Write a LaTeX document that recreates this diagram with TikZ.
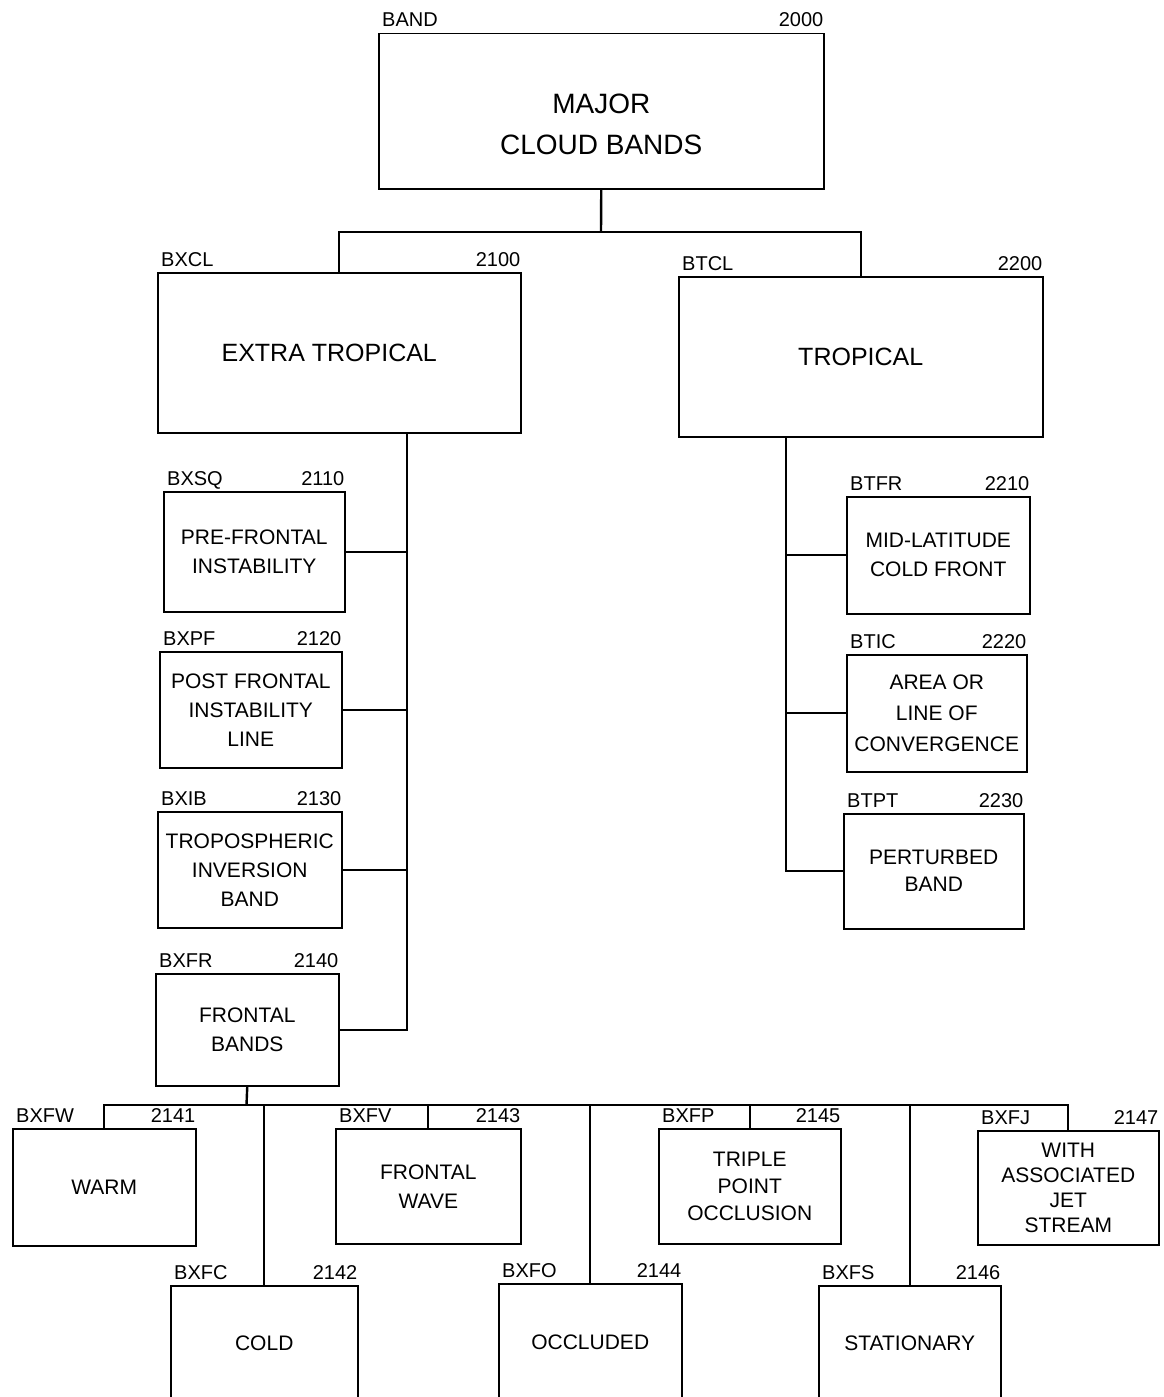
\documentclass[tikz,border=0pt]{standalone}
\usepackage{fontspec}
\setmainfont{Liberation Sans}
\begin{document}
\begin{tikzpicture}[x=1pt,y=-1pt,
  box/.style={draw, line width=1.5pt, anchor=north west, align=center, inner sep=0pt,
    font=\fontsize{21}{29}\selectfont},
  bigbox/.style={box, font=\fontsize{25}{34}\selectfont},
  topbox/.style={box, font=\fontsize{28}{41}\selectfont},
  lab/.style={font=\fontsize{20}{20}\selectfont, inner sep=0pt},
  conn/.style={line width=2.4pt}]
\useasboundingbox (0,0) rectangle (1164,1397);
\fill[white] (0,0) rectangle (1164,1397);

\newcommand{\bx}[9]{% style,name,x,y,w,h,text,leftlab,rightlab
  \node[#1, minimum width=#5pt, minimum height=#6pt,
    label={[lab, anchor=base west, xshift=4pt, yshift=6pt]north west:#8},
    label={[lab, anchor=base east, xshift=-1pt, yshift=6pt]north east:#9}]
    (#2) at (#3,#4) {#7};}

\bx{topbox}{major}{378}{33}{445}{155}{\rule{0pt}{46pt}MAJOR\\CLOUD BANDS}{BAND}{2000}
\bx{bigbox}{xt}{157}{272}{363}{160}{EXTRA TROPICAL\hspace*{20pt}}{BXCL}{2100}
\bx{bigbox}{tr}{678}{276}{364}{160}{TROPICAL}{BTCL}{2200}

\bx{box}{pf}{163}{491}{181}{120}{PRE-FRONTAL\\INSTABILITY}{BXSQ}{2110}
\bx{box}{po}{159}{651}{182}{116}{POST FRONTAL\\INSTABILITY\\LINE}{BXPF}{2120}
\bx{box}{ti}{157}{811}{184}{116}{TROPOSPHERIC\\INVERSION\\BAND}{BXIB}{2130}
\bx{box}{fb}{155}{973}{183}{112}{FRONTAL\\BANDS}{BXFR}{2140}

\bx{box}{ml}{846}{496}{183}{117}{MID-LATITUDE\\COLD FRONT}{BTFR}{2210}
\bx{box, font=\fontsize{21}{31}\selectfont}{ar}{846}{654}{180}{117}{AREA OR\\LINE OF\\CONVERGENCE}{BTIC}{2220}
\bx{box, font=\fontsize{21}{27}\selectfont}{pb}{843}{813}{180}{115}{PERTURBED\\BAND}{BTPT}{2230}

\bx{box}{warm}{12}{1128}{183}{117}{WARM}{BXFW}{2141}
\bx{box}{cold}{170}{1285}{187}{116}{COLD}{BXFC}{2142}
\bx{box}{fw}{335}{1128}{185}{115}{FRONTAL\\WAVE}{BXFV}{2143}
\bx{box}{occ}{498}{1283}{183}{118}{OCCLUDED}{BXFO}{2144}
\bx{box, font=\fontsize{21}{27}\selectfont}{tpo}{658}{1128}{182}{115}{TRIPLE\\POINT\\OCCLUSION}{BXFP}{2145}
\bx{box}{sta}{818}{1285}{182}{116}{STATIONARY}{BXFS}{2146}
\bx{box, font=\fontsize{21}{25}\selectfont}{wj}{977}{1130}{181}{114}{WITH\\ASSOCIATED\\JET\\STREAM}{BXFJ}{2147}

% top level connectors
\coordinate (bar1) at (601,232);
\draw[conn] (major.south) -- (bar1);
\draw[conn] (xt.north) |- (bar1) -| (tr.north);

% extra tropical trunk
\coordinate (lt) at (407,432);
\draw[conn] (lt) -- (fb.east -| lt) -- (fb.east);
\draw[conn] (pf.east) -- (pf.east -| lt);
\draw[conn] (po.east) -- (po.east -| lt);
\draw[conn] (ti.east) -- (ti.east -| lt);

% tropical trunk
\coordinate (rt) at (786,436);
\draw[conn] (rt) -- (pb.west -| rt) -- (pb.west);
\draw[conn] (ml.west) -- (ml.west -| rt);
\draw[conn] (ar.west) -- (ar.west -| rt);

% frontal bands
\coordinate (bar2) at (246.5,1105);
\draw[conn] (fb.south) -- (bar2);
\draw[conn] (warm.north) |- (bar2) -| (wj.north);
\draw[conn] (cold.north) -- (cold.north |- bar2);
\draw[conn] (fw.north) -- (fw.north |- bar2);
\draw[conn] (occ.north) -- (occ.north |- bar2);
\draw[conn] (tpo.north) -- (tpo.north |- bar2);
\draw[conn] (sta.north) -- (sta.north |- bar2);
\end{tikzpicture}
\end{document}
